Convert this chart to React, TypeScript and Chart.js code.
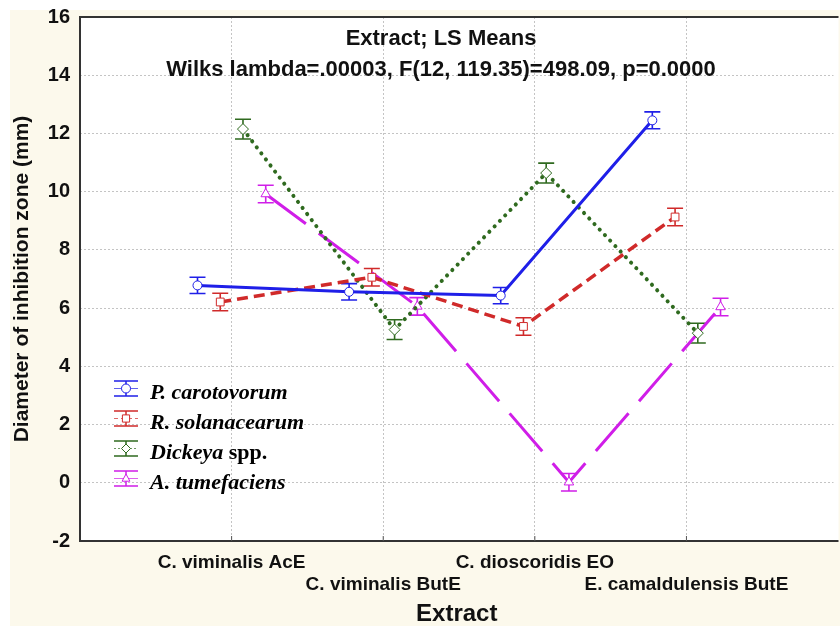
import React, { useEffect, useRef } from "react";
import { Chart, registerables } from "chart.js";

Chart.register(...registerables);

// ---------- data ----------
const categories = ["C. viminalis AcE", "C. viminalis ButE", "C. dioscoridis EO", "E. camaldulensis ButE"];
const seriesNames = ["P. carotovorum", "R. solanacearum", "Dickeya spp.", "A. tumefaciens"];

const pCarotovorumMeans = [6.78, 6.56, 6.43, 12.45];
const pCarotovorumErrors = [0.28, 0.28, 0.28, 0.29];
const rSolanacearumMeans = [6.21, 7.06, 5.37, 9.13];
const rSolanacearumErrors = [0.3, 0.3, 0.3, 0.3];
const dickeyaMeans = [12.15, 5.26, 10.64, 5.14];
const dickeyaErrors = [0.34, 0.34, 0.34, 0.34];
const aTumefaciensMeans = [9.92, 6.06, 0.02, 6.04];
const aTumefaciensErrors = [0.3, 0.3, 0.3, 0.3];

const yMin = -2;
const yMax = 16;
const yStep = 2;

const titleLine1 = "Extract; LS Means";
const titleLine2 = "Wilks lambda=.00003, F(12, 119.35)=498.09, p=0.0000";
const xTitle = "Extract";
const yTitle = "Diameter of inhibition zone (mm)";

// horizontal shift of each series around its category (in category units)
const seriesShift = [-0.225, -0.075, 0.075, 0.225];

const meansList = [pCarotovorumMeans, rSolanacearumMeans, dickeyaMeans, aTumefaciensMeans];
const errorsList = [pCarotovorumErrors, rSolanacearumErrors, dickeyaErrors, aTumefaciensErrors];

// ---------- styles ----------
const SANS = '"Liberation Sans", Arial, Helvetica, sans-serif';
const SERIF = '"Liberation Serif", "Times New Roman", serif';

const seriesStyles = [
  { color: "#1f1fe8", dash: [] as number[], width: 3, cap: "butt", point: "circle", radius: 4.5, legendDash: [] as number[] },
  { color: "#d02a2a", dash: [11, 6], width: 3.5, cap: "butt", point: "rect", radius: 5.5, legendDash: [4, 3] },
  { color: "#2f6a1f", dash: [0.1, 7.5], width: 4, cap: "round", point: "rectRot", radius: 5.5, legendDash: [2, 2] },
  { color: "#d01ee8", dash: [50, 16], width: 3, cap: "butt", point: "triangle", radius: 5.5, legendDash: [] as number[] },
];

function drawMarker(ctx: CanvasRenderingContext2D, style: string, x: number, y: number, r: number, color: string) {
  ctx.beginPath();
  if (style === "circle") {
    ctx.arc(x, y, r, 0, Math.PI * 2);
  } else if (style === "rect") {
    const s = r * 0.8;
    ctx.rect(x - s, y - s, 2 * s, 2 * s);
  } else if (style === "rectRot") {
    ctx.moveTo(x, y - r);
    ctx.lineTo(x + r, y);
    ctx.lineTo(x, y + r);
    ctx.lineTo(x - r, y);
  } else {
    ctx.moveTo(x, y - r);
    ctx.lineTo(x + r * 0.87, y + r * 0.6);
    ctx.lineTo(x - r * 0.87, y + r * 0.6);
  }
  ctx.closePath();
  ctx.fillStyle = "#ffffff";
  ctx.fill();
  ctx.lineWidth = 1;
  ctx.strokeStyle = color;
  ctx.stroke();
}

const backgroundPlugin = {
  id: "bgPlugin",
  beforeDraw(chart: any) {
    const { ctx, chartArea, width, height } = chart;
    ctx.save();
    ctx.fillStyle = "#ffffff";
    ctx.fillRect(0, 0, width, height);
    ctx.fillStyle = "#fcf9ec";
    ctx.fillRect(10, 10, width - 10, height - 10);
    ctx.fillStyle = "#ffffff";
    ctx.fillRect(chartArea.left, chartArea.top, chartArea.right - chartArea.left + 5, chartArea.bottom - chartArea.top);
    ctx.restore();
  },
};

const framePlugin = {
  id: "framePlugin",
  beforeDatasetsDraw(chart: any) {
    const { ctx, chartArea, scales } = chart;
    ctx.save();
    ctx.strokeStyle = "#333333";
    ctx.lineWidth = 2;
    ctx.beginPath();
    ctx.moveTo(chartArea.right + 5, chartArea.top);
    ctx.lineTo(chartArea.left, chartArea.top);
    ctx.lineTo(chartArea.left, chartArea.bottom);
    ctx.lineTo(chartArea.right + 5, chartArea.bottom);
    ctx.stroke();
    // small inner tick marks at categories
    ctx.lineWidth = 1;
    ctx.strokeStyle = "#555555";
    ctx.beginPath();
    categories.forEach((_, i) => {
      const px = scales.x.getPixelForValue(i + 1);
      ctx.moveTo(px, chartArea.bottom);
      ctx.lineTo(px, chartArea.bottom - 5);
    });
    ctx.stroke();

    // title inside plot
    ctx.fillStyle = "#111111";
    ctx.textAlign = "center";
    ctx.textBaseline = "alphabetic";
    ctx.font = `bold 22px ${SANS}`;
    ctx.fillText(titleLine1, 441, 45);
    ctx.fillText(titleLine2, 441, 76);

    // error bars
    meansList.forEach((means, i) => {
      ctx.strokeStyle = seriesStyles[i].color;
      ctx.lineWidth = 1.6;
      ctx.beginPath();
      means.forEach((m, j) => {
        const px = scales.x.getPixelForValue(j + 1 + seriesShift[i]);
        const top = scales.y.getPixelForValue(m + errorsList[i][j]);
        const bot = scales.y.getPixelForValue(m - errorsList[i][j]);
        ctx.moveTo(px, top);
        ctx.lineTo(px, bot);
        ctx.moveTo(px - 8, top);
        ctx.lineTo(px + 8, top);
        ctx.moveTo(px - 8, bot);
        ctx.lineTo(px + 8, bot);
      });
      ctx.stroke();
    });
    ctx.restore();
  },
};

const legendPlugin = {
  id: "legendPlugin",
  afterDatasetsDraw(chart: any) {
    const { ctx } = chart;
    const baselines = [399, 429, 459, 489];
    const cx = 126;
    seriesNames.forEach((name, i) => {
      const st = seriesStyles[i];
      const cy = baselines[i] - 10.5;
      ctx.save();
      ctx.strokeStyle = st.color;
      ctx.lineWidth = 1.5;
      ctx.beginPath();
      ctx.moveTo(cx - 12, cy - 7.5);
      ctx.lineTo(cx + 12, cy - 7.5);
      ctx.moveTo(cx - 12, cy + 7.5);
      ctx.lineTo(cx + 12, cy + 7.5);
      ctx.moveTo(cx, cy - 7.5);
      ctx.lineTo(cx, cy + 7.5);
      ctx.stroke();
      ctx.lineWidth = 1;
      ctx.globalAlpha = 0.7;
      ctx.setLineDash(st.legendDash);
      ctx.beginPath();
      ctx.moveTo(cx - 12, cy);
      ctx.lineTo(cx + 12, cy);
      ctx.stroke();
      ctx.setLineDash([]);
      ctx.globalAlpha = 1;
      drawMarker(ctx, st.point, cx, cy, 4.5, st.color);

      const italicPart = name.replace(/ spp\.$/, "");
      const rest = name.slice(italicPart.length);
      ctx.fillStyle = "#000000";
      ctx.textAlign = "left";
      ctx.textBaseline = "alphabetic";
      ctx.font = `italic bold 22px ${SERIF}`;
      ctx.fillText(italicPart, 150, baselines[i]);
      if (rest) {
        const w = ctx.measureText(italicPart).width;
        ctx.font = `bold 22px ${SERIF}`;
        ctx.fillText(rest, 150 + w, baselines[i]);
      }
      ctx.restore();
    });
  },
};

export default function App() {
  const canvasRef = useRef<HTMLCanvasElement | null>(null);

  useEffect(() => {
    if (!canvasRef.current) return;
    const datasets = meansList.map((means, i) => {
      const st = seriesStyles[i];
      return {
        label: seriesNames[i],
        data: means.map((v, j) => ({ x: j + 1 + seriesShift[i], y: v })),
        borderColor: st.color,
        borderWidth: st.width,
        borderDash: st.dash,
        borderCapStyle: st.cap,
        backgroundColor: "#ffffff",
        pointStyle: st.point,
        pointRadius: st.radius,
        pointBorderWidth: 1,
        pointBorderColor: st.color,
        pointBackgroundColor: "#ffffff",
        tension: 0,
        fill: false,
      };
    });

    const chart = new Chart(canvasRef.current, {
      type: "line",
      data: { datasets: datasets as any },
      options: {
        animation: false,
        responsive: false,
        maintainAspectRatio: false,
        layout: { padding: { left: 10, top: 17, right: 0, bottom: 0 } },
        plugins: {
          legend: { display: false },
          tooltip: { enabled: false },
          title: { display: false },
        },
        scales: {
          x: {
            type: "linear",
            min: 0,
            max: 4.97,
            afterBuildTicks: (s: any) => {
              s.ticks = categories.map((_, i) => ({ value: i + 1 }));
            },
            afterFit: (s: any) => {
              s.height = 85;
              s.paddingLeft = 0;
              s.paddingRight = 0;
            },
            ticks: {
              autoSkip: false,
              maxRotation: 0,
              minRotation: 0,
              padding: 10,
              color: "#111111",
              font: { family: SANS, weight: "bold", size: 19, lineHeight: 1.2 },
              callback: (value: any) => {
                const idx = Math.round(Number(value)) - 1;
                const label = categories[idx] ?? "";
                return idx % 2 === 0 ? label : ["", label];
              },
            },
            grid: { color: "#c4c4c4", drawTicks: false, lineWidth: 1 },
            border: { display: false, dash: [2, 2] },
            title: {
              display: true,
              text: xTitle,
              color: "#111111",
              padding: 0,
              font: { family: SANS, weight: "bold", size: 24, lineHeight: 1 },
            },
          },
          y: {
            type: "linear",
            min: yMin,
            max: yMax,
            afterFit: (s: any) => {
              s.width = 70;
              s.paddingTop = 0;
              s.paddingBottom = 0;
            },
            ticks: {
              stepSize: yStep,
              padding: 10,
              color: "#111111",
              font: { family: SANS, weight: "bold", size: 20 },
            },
            grid: { color: "#c4c4c4", drawTicks: false, lineWidth: 1 },
            border: { display: false, dash: [2, 2] },
            title: {
              display: true,
              text: yTitle,
              color: "#111111",
              padding: 0,
              font: { family: SANS, weight: "bold", size: 21, lineHeight: 1.2 },
            },
          },
        },
      },
      plugins: [backgroundPlugin, framePlugin, legendPlugin],
    });
    return () => chart.destroy();
  }, []);

  return (
    <div style={{ position: "absolute", left: 0, top: 0, width: 840, height: 626 }}>
      <canvas ref={canvasRef} width={840} height={626} style={{ display: "block", width: 840, height: 626 }} />
    </div>
  );
}
